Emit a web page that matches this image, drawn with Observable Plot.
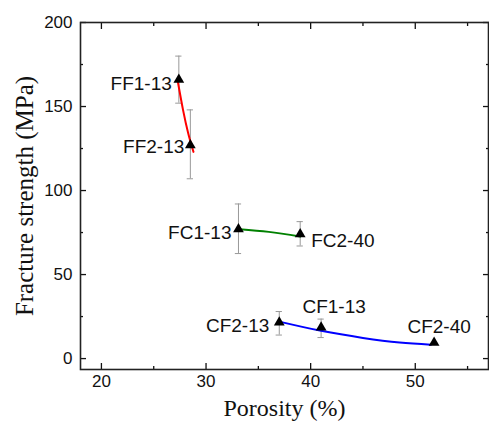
<!DOCTYPE html>
<html><head><meta charset="utf-8">
<script src="https://cdn.jsdelivr.net/npm/d3@7"></script>
<script src="https://cdn.jsdelivr.net/npm/@observablehq/plot@0.6"></script>
<style>body{margin:0;background:#fff}</style>
</head><body><div id="chart"></div>
<script>
const samples = ["FF1-13","FF2-13","FC1-13","FC2-40","CF2-13","CF1-13","CF2-40"];
const porosity = [27.4, 28.5, 33.1, 39.0, 37.0, 41.0, 51.8];
const strength = [166, 127, 77, 74, 21.5, 18.5, 9.5];
const errLow = [152, 107, 62.5, 67, 14, 12.5, 9.5];
const errHigh = [180, 148, 92, 81.5, 28, 23.5, 9.5];
const labelAnchor = ["end","end","end","start","end","middle","middle"];
const labelDx = [-7,-6,-7,11,-10,13,5];
const labelDy = [4,2,4,7,3,-21,-16];

const redX = [27.3, 27.8, 28.3, 28.8];
const redY = [165, 148, 134, 123];
const greenX = [33.2, 36, 39];
const greenY = [77, 75.4, 72.6];
const blueX = [37, 41, 45, 48.5, 51.5];
const blueY = [22, 16.5, 12.3, 9.6, 8.3];

const pts = samples.map((s,i)=>({s, x:porosity[i], y:strength[i], lo:errLow[i], hi:errHigh[i], a:labelAnchor[i], dx:labelDx[i], dy:labelDy[i]}));
const mk = (xs,ys)=>xs.map((x,i)=>({x, y:ys[i]}));
const red = mk(redX, redY), green = mk(greenX, greenY), blue = mk(blueX, blueY);
const bars = pts.filter(d=>d.hi>d.lo);

const xMajor=[20,30,40,50], xMinor=[25,35,45,55];
const yMajor=[0,50,100,150,200], yMinor=[25,75,125,175];
const font = "Liberation Sans, Arial, sans-serif";
const serif = "Liberation Serif, Times New Roman, serif";
const none = ()=>"";

const plot = Plot.plot({
  width: 489, height: 427,
  marginLeft: 80, marginRight: 1, marginTop: 22, marginBottom: 58,
  style: {fontFamily: font, fontSize: "17px", color: "#111", background: "#fff"},
  x: {domain: [18, 57]},
  y: {domain: [-6.5, 200]},
  marks: [
    Plot.axisX(xMajor, {anchor: "bottom", tickSize: 0, tickPadding: 5, label: null, fontSize: 17, tickFormat: d=>d}),
    Plot.axisX(xMajor, {anchor: "bottom", tickSize: 6, dy: -6, tickFormat: none, label: null, strokeWidth: 1.3}),
    Plot.axisX(xMinor, {anchor: "bottom", tickSize: 3, dy: -3, tickFormat: none, label: null, strokeWidth: 1.3}),
    Plot.axisX(xMajor, {anchor: "top", tickSize: 6, dy: 6, tickFormat: none, label: null, strokeWidth: 1.3}),
    Plot.axisX(xMinor, {anchor: "top", tickSize: 3, dy: 3, tickFormat: none, label: null, strokeWidth: 1.3}),
    Plot.axisY(yMajor, {anchor: "left", tickSize: 0, tickPadding: 8, label: null, fontSize: 17}),
    Plot.axisY(yMajor, {anchor: "left", tickSize: 6, dx: 6, tickFormat: none, label: null, strokeWidth: 1.3}),
    Plot.axisY(yMinor, {anchor: "left", tickSize: 3, dx: 3, tickFormat: none, label: null, strokeWidth: 1.3}),
    Plot.axisY(yMajor, {anchor: "right", tickSize: 6, dx: -6, tickFormat: none, label: null, strokeWidth: 1.3}),
    Plot.axisY(yMinor, {anchor: "right", tickSize: 3, dx: -3, tickFormat: none, label: null, strokeWidth: 1.3}),
    Plot.frame({stroke: "#222", strokeWidth: 1.6}),
    Plot.ruleX(bars, {x: "x", y1: "lo", y2: "hi", stroke: "#999", strokeWidth: 1}),
    Plot.ruleY(bars, {y: "lo", x1: d=>d.x-0.3, x2: d=>d.x+0.3, stroke: "#999", strokeWidth: 1}),
    Plot.ruleY(bars, {y: "hi", x1: d=>d.x-0.3, x2: d=>d.x+0.3, stroke: "#999", strokeWidth: 1}),
    Plot.line(red, {x: "x", y: "y", stroke: "red", strokeWidth: 2, curve: "natural"}),
    Plot.line(green, {x: "x", y: "y", stroke: "green", strokeWidth: 2, curve: "natural"}),
    Plot.line(blue, {x: "x", y: "y", stroke: "blue", strokeWidth: 2, curve: "natural"}),
    Plot.dot(pts, {x: "x", y: "y", symbol: "triangle", fill: "black", r: 4}),
    ...pts.map(d => Plot.text([d], {x: "x", y: "y", text: "s", textAnchor: d.a, dx: d.dx, dy: d.dy, fontSize: 19, fill: "#111"})),
    Plot.text(["Porosity (%)"], {frameAnchor: "bottom", textAnchor: "middle", lineAnchor: "middle", dy: 39, text: d=>d, fontFamily: serif, fontSize: 24, fill: "#111"}),
    Plot.text(["Fracture strength (MPa)"], {frameAnchor: "left", textAnchor: "middle", lineAnchor: "middle", dx: -56, rotate: -90, text: d=>d, fontFamily: serif, fontSize: 25, fill: "#111"})
  ]
});
document.getElementById("chart").appendChild(plot);
</script>
</body></html>
